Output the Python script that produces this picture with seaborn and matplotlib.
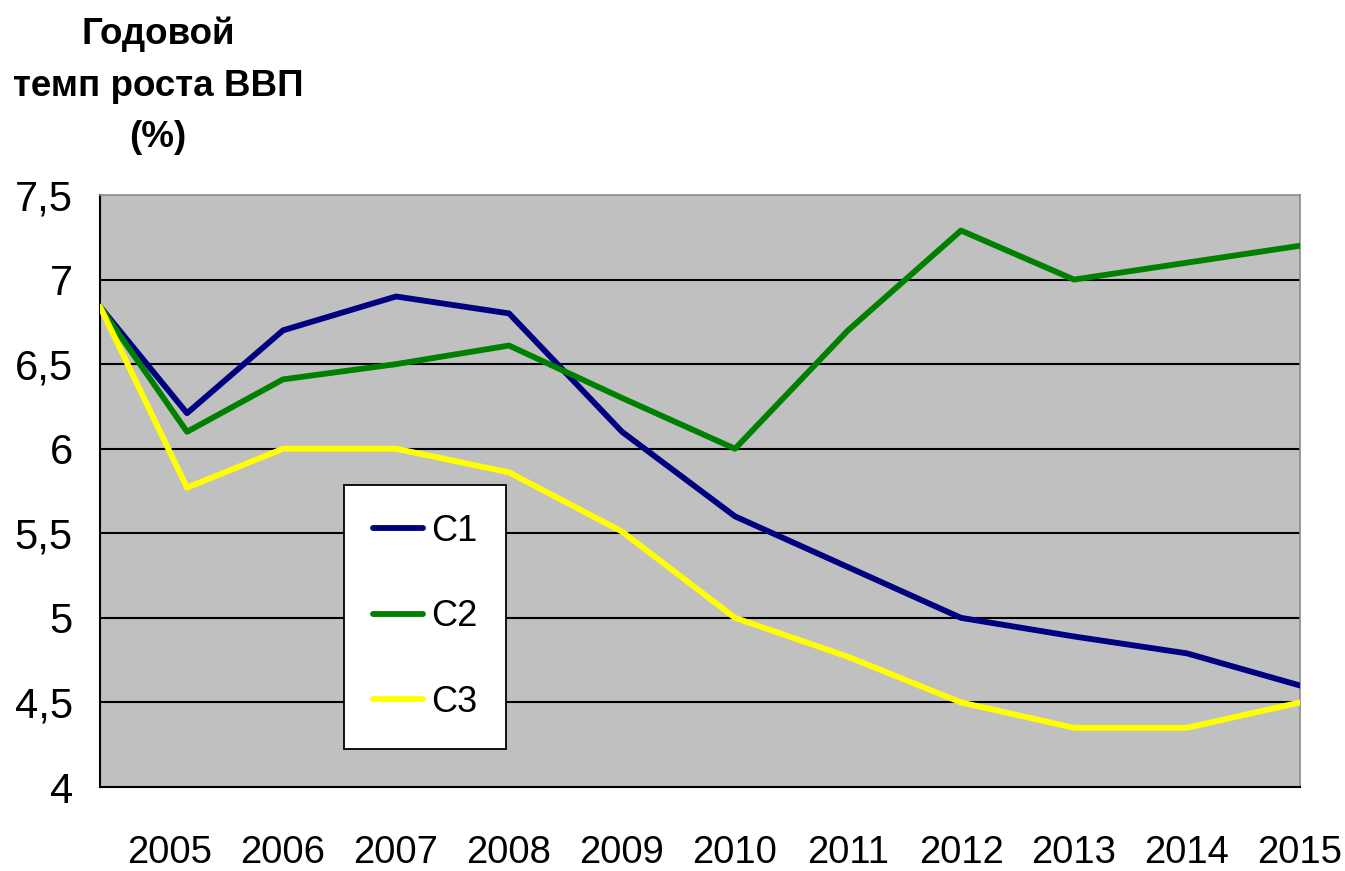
import pandas as pd
import matplotlib.pyplot as plt
import seaborn as sns

# data
years = [2004.38, 2005.15, 2006, 2007, 2008, 2009, 2010, 2011, 2012, 2013, 2014, 2015]
c1 = [6.84, 6.21, 6.7, 6.9, 6.8, 6.1, 5.6, 5.3, 5.0, 4.89, 4.79, 4.6]
c2 = [6.84, 6.1, 6.41, 6.5, 6.61, 6.3, 6.0, 6.7, 7.29, 7.0, 7.1, 7.2]
c3 = [6.84, 5.77, 6.0, 6.0, 5.86, 5.51, 5.0, 4.77, 4.5, 4.35, 4.35, 4.5]
series = ["C1", "C2", "C3"]
colors = ["#000080", "#008000", "#FFFF00"]
year_labels = [str(y) for y in range(2005, 2016)]
y_ticks = [4, 4.5, 5, 5.5, 6, 6.5, 7, 7.5]
y_labels = ["4", "4,5", "5", "5,5", "6", "6,5", "7", "7,5"]

df = pd.DataFrame({
    "year": years * 3,
    "value": c1 + c2 + c3,
    "series": [s for s in series for _ in years],
})

sns.set_style("white")
plt.rcParams["font.family"] = ["Liberation Sans", "DejaVu Sans"]
plt.rcParams["text.color"] = "black"
plt.rcParams["xtick.color"] = "black"
plt.rcParams["ytick.color"] = "black"

fig = plt.figure(figsize=(13.45, 8.71), dpi=100)
ax = fig.add_axes([100 / 1345, 1 - 787 / 871, 1200 / 1345, 592 / 871])
ax.set_facecolor("#C0C0C0")

# horizontal grid
for v in y_ticks[1:-1]:
    ax.axhline(v, color="black", lw=1.5, zorder=1)

sns.lineplot(data=df, x="year", y="value", hue="series", palette=colors,
             linewidth=4.2, ax=ax, zorder=3)

ax.set_xlim(years[0], 2015)
ax.set_ylim(4, 7.5)
ax.set_xticks([years[0]] + list(range(2005, 2016)))
ax.set_xticklabels([""] + year_labels, fontsize=27.5)
ax.set_yticks(y_ticks)
ax.set_yticklabels(y_labels, fontsize=30)
ax.tick_params(axis="x", direction="out", length=9.5, width=1.3, pad=25)
ax.tick_params(axis="y", direction="out", length=9.5, width=1.3, pad=10)
ax.set_xlabel("")
ax.set_ylabel("")

for side in ["left", "bottom"]:
    ax.spines[side].set_color("black")
    ax.spines[side].set_linewidth(1.5)
for side in ["top", "right"]:
    ax.spines[side].set_color("#8a8a8a")
    ax.spines[side].set_linewidth(1.2)

handles, labels = ax.get_legend_handles_labels()
leg = ax.legend(handles, labels, loc="upper left",
                bbox_to_anchor=((344 - 100) / 1200, (787 - 485) / 592),
                borderaxespad=0, fontsize=26, frameon=True, fancybox=False,
                edgecolor="black", facecolor="white", framealpha=1,
                handlelength=1.4, handletextpad=0.2, labelspacing=1.4,
                borderpad=0.8)
leg.get_frame().set_linewidth(1.3)
for line in leg.get_lines():
    line.set_linewidth(4.2)

fig.text(158 / 1345, 1 - 86 / 871, "Годовой\nтемп роста ВВП\n(%)",
         ha="center", va="center", fontsize=26.5, fontweight="bold",
         linespacing=1.62)

plt.savefig("out.png", dpi=100)
